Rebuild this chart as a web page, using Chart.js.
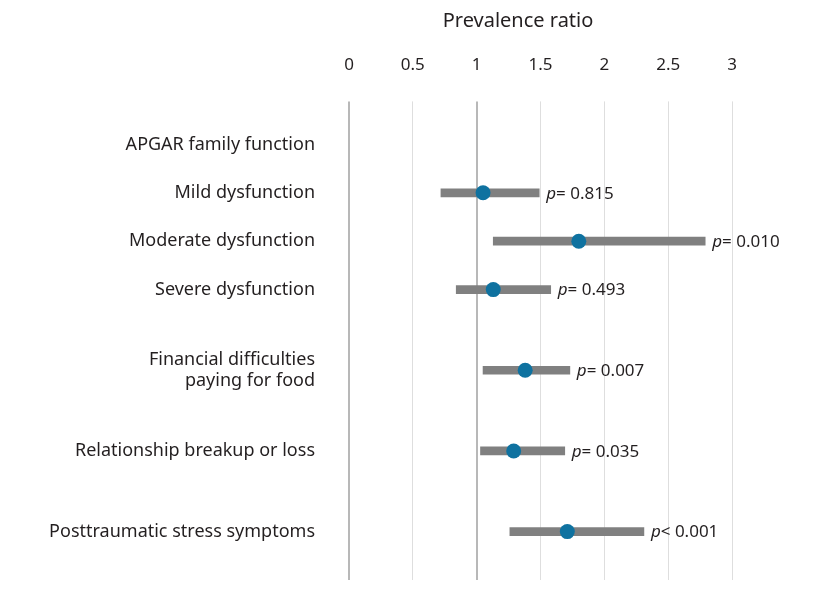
<!DOCTYPE html>
<html>
<head>
<meta charset="utf-8">
<script src="https://cdn.jsdelivr.net/npm/chart.js@4.4.0/dist/chart.umd.min.js"></script>
<style>
  body { margin: 0; background: #fff; }
  #wrap { width: 833px; height: 598px; }
</style>
</head>
<body>
<div id="wrap"><canvas id="forest"></canvas></div>
<script>
// Data
const categories = [
    'APGAR family function',
    'Mild dysfunction',
    'Moderate dysfunction',
    'Severe dysfunction',
    ['Financial difficulties', 'paying for food'],
    'Relationship breakup or loss',
    'Posttraumatic stress symptoms'
];
const ratios = [null, 1.05, 1.80, 1.13, 1.38, 1.29, 1.71];
const lowerCI = [null, 0.72, 1.13, 0.84, 1.05, 1.03, 1.26];
const upperCI = [null, 1.49, 2.79, 1.58, 1.73, 1.69, 2.31];
const pLabels = [null, '= 0.815', '= 0.010', '= 0.493', '= 0.007', '= 0.035', '< 0.001'];
const xTicks = [0, 0.5, 1, 1.5, 2, 2.5, 3];

// layout: how many empty slots before each row
const rowSteps = [0, 3, 3, 3, 5, 5, 5];
const totalSlots = 28;

const FONT = '"Noto Sans", sans-serif';
const TEXT = '#231f20';

// spread the rows over the slot grid
const slotLabels = new Array(totalSlots).fill('');
const slotRatio = new Array(totalSlots).fill(null);
const slotRange = new Array(totalSlots).fill(null);
const rowSlot = [];
let s = 0;
categories.forEach((c, i) => {
    s += rowSteps[i];
    rowSlot.push(s);
    slotLabels[s] = c;
    slotRatio[s] = ratios[i];
    slotRange[s] = lowerCI[i] == null ? null : [lowerCI[i], upperCI[i]];
});

const annotations = {
    id: 'annotations',
    afterDatasetsDraw(chart) {
        const ctx = chart.ctx;
        const x = chart.scales.x;
        const y = chart.scales.y;
        ctx.save();
        ctx.fillStyle = TEXT;
        ctx.textBaseline = 'middle';
        ctx.textAlign = 'left';
        pLabels.forEach((txt, i) => {
            if (!txt) return;
            let px = x.getPixelForValue(upperCI[i]) + 7;
            const py = y.getPixelForValue(rowSlot[i]) + 1;
            ctx.font = 'italic 17px ' + FONT;
            ctx.fillText('p', px, py);
            px += ctx.measureText('p').width;
            ctx.font = '17px ' + FONT;
            ctx.fillText(txt, px, py);
        });
        // axis title
        ctx.font = '20px ' + FONT;
        ctx.textAlign = 'center';
        ctx.fillText('Prevalence ratio', chart.chartArea.left + 169, 21);
        ctx.restore();
    }
};

new Chart(document.getElementById('forest'), {
    type: 'bar',
    data: {
        labels: slotLabels,
        datasets: [{
            type: 'line',
            data: slotRatio,
            showLine: false,
            pointRadius: 7.5,
            pointHoverRadius: 7.5,
            pointBackgroundColor: '#0f72a0',
            pointBorderWidth: 0,
            order: 0
        }, {
            type: 'bar',
            data: slotRange,
            backgroundColor: '#808080',
            borderWidth: 0,
            barThickness: 8,
            order: 1
        }]
    },
    options: {
        indexAxis: 'y',
        responsive: true,
        maintainAspectRatio: false,
        animation: false,
        layout: { padding: { top: 29, right: 101, bottom: 18, left: 0 } },
        scales: {
            x: {
                position: 'top',
                min: 0,
                max: 3,
                afterBuildTicks: scale => { scale.ticks = xTicks.map(v => ({ value: v })); },
                afterFit: scale => { scale.paddingLeft = 0; scale.paddingRight = 0; },
                ticks: {
                    color: TEXT,
                    font: { family: FONT, size: 17 },
                    padding: 26,
                    maxRotation: 0,
                    callback: v => String(v)
                },
                grid: {
                    color: c => (c.tick && (c.tick.value === 0 || c.tick.value === 1)) ? '#b8b8b8' : '#dedede',
                    lineWidth: c => (c.tick && (c.tick.value === 0 || c.tick.value === 1)) ? 2 : 1,
                    tickLength: 43
                },
                border: { display: false }
            },
            y: {
                type: 'category',
                offset: false,
                afterFit: scale => {
                    scale.width = 349;
                    scale.paddingTop = 0;
                    scale.paddingBottom = 0;
                },
                ticks: {
                    color: TEXT,
                    font: { family: FONT, size: 18 },
                    padding: 26,
                    autoSkip: false
                },
                grid: { display: false },
                border: { display: false }
            }
        },
        plugins: {
            legend: { display: false },
            tooltip: { enabled: false }
        }
    },
    plugins: [annotations]
});
</script>
</body>
</html>
